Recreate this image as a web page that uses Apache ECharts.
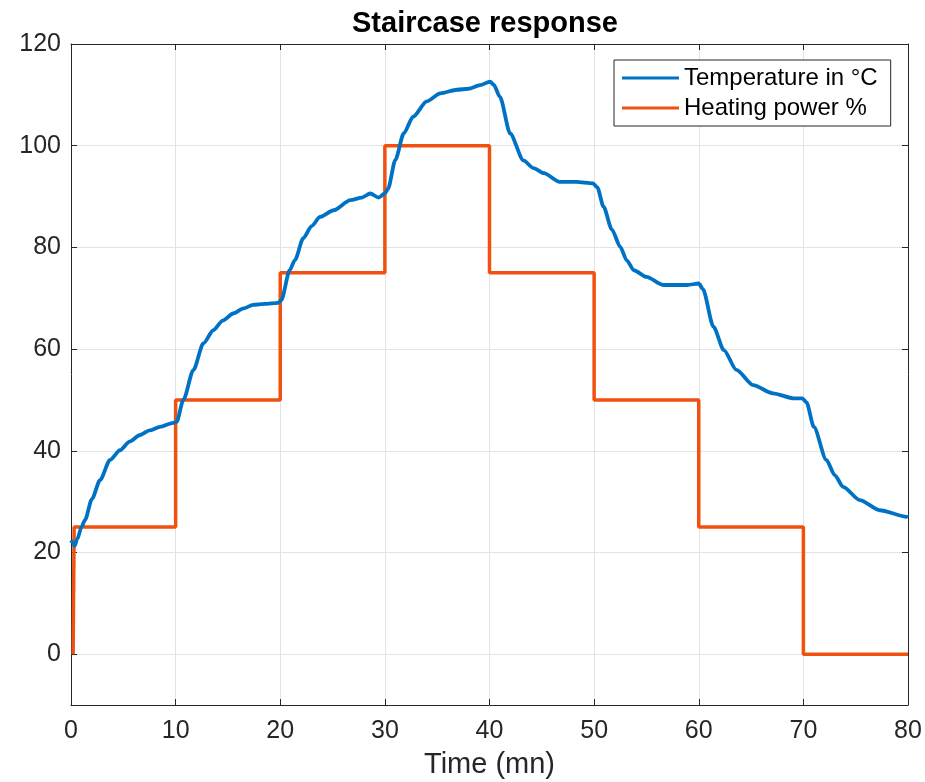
<!DOCTYPE html>
<html>
<head>
<meta charset="utf-8">
<script src="https://cdn.jsdelivr.net/npm/echarts@6/dist/echarts.min.js"></script>
<style>html,body{margin:0;padding:0;background:#fff;}#c{width:925px;height:782px;}</style>
</head>
<body>
<div id="c"></div>
<script>
const xTicks = [0, 10, 20, 30, 40, 50, 60, 70, 80];
const yTicks = [0, 20, 40, 60, 80, 100, 120];
const seriesNames = ['Temperature in °C', 'Heating power %'];
const titleText = 'Staircase response';
const xAxisName = 'Time (mn)';

const tempTime = [0, 0.15, 0.35, 0.6, 1.0, 1.34, 2.0, 2.77, 3.73, 4.68, 5.6, 6.6, 7.5, 8.5, 9.78, 10.1,
  10.74, 11.7, 12.65, 13.6, 14.5, 15.5, 16.5, 17.4, 18.5, 19.8, 20.1,
  20.9, 21.4, 22.2, 23.0, 23.8, 25.1, 26.7, 27.8, 28.6, 29.4, 30.0, 30.3,
  31.0, 31.8, 32.7, 34.0, 35.3, 36.9, 38.0, 39.1, 40.06, 40.4,
  41.0, 41.97, 43.24, 44.2, 45.2, 46.7, 48.3, 49.9, 50.3,
  50.9, 51.7, 52.5, 53.1, 53.8, 55.0, 56.6, 58.9, 60.0, 60.4,
  61.4, 62.4, 63.6, 65.2, 67.1, 69.1, 69.9, 70.3,
  71.0, 72.2, 73.0, 73.8, 75.4, 77.3, 79.9, 80];
const tempValues = [22.4, 22.0, 21.3, 22.6, 25.0, 26.4, 30.5, 34.2, 38.2, 40.1, 41.8, 43.1, 44.0, 44.7, 45.5, 45.7,
  50.0, 55.9, 61.1, 63.7, 65.6, 67.0, 68.0, 68.7, 68.9, 69.1, 69.6,
  75.5, 77.5, 81.8, 84.2, 86.0, 87.3, 89.3, 89.8, 90.6, 89.8, 90.6, 91.5,
  97.2, 102.4, 105.7, 108.7, 110.3, 111.0, 111.2, 111.9, 112.6, 112.0,
  109.6, 102.4, 97.1, 95.6, 94.6, 92.9, 92.9, 92.6, 91.8,
  88.0, 83.5, 80.1, 77.5, 75.5, 74.2, 72.6, 72.6, 72.9, 71.8,
  64.4, 59.8, 55.9, 52.9, 51.3, 50.3, 50.3, 49.5,
  44.7, 38.2, 35.2, 32.9, 30.3, 28.3, 27.0, 26.9];

const powerTime = [0.2, 0.3, 10, 10, 20, 20, 30, 30, 40, 40, 50, 50, 60, 60, 70, 70, 80];
const powerValues = [0, 25, 25, 50, 50, 75, 75, 100, 100, 75, 75, 50, 50, 25, 25, 0, 0];

const tempData = tempTime.map((t, i) => [t, tempValues[i]]);
const powerData = powerTime.map((t, i) => [t, powerValues[i]]);

const axisColor = '#262626';
const font = '"Liberation Sans", Arial, Helvetica, sans-serif';

const chart = echarts.init(document.getElementById('c'), null, {renderer: 'canvas'});
chart.setOption({
  animation: false,
  backgroundColor: '#ffffff',
  graphic: [{
    type: 'text',
    left: 352,
    top: 9,
    style: {text: titleText, fontFamily: font, fontSize: 29, fontWeight: 'bold', fill: '#000'}
  }],
  legend: {
    orient: 'vertical',
    left: 614,
    top: 60,
    data: seriesNames,
    icon: 'rect',
    itemWidth: 57,
    itemHeight: 3,
    itemGap: 4,
    padding: [5, 13, 5, 8],
    borderColor: axisColor,
    borderWidth: 1,
    backgroundColor: '#fff',
    textStyle: {fontFamily: font, fontSize: 24, color: '#000', lineHeight: 26}
  },
  grid: {left: 71, right: 17, top: 44, bottom: 77, containLabel: false, outerBoundsMode: 'none'},
  xAxis: [{
    type: 'value', min: 0, max: 80, interval: 10,
    name: xAxisName, nameLocation: 'middle', nameGap: 45,
    nameTextStyle: {fontFamily: font, fontSize: 29, color: axisColor},
    axisLine: {show: true, onZero: false, lineStyle: {color: axisColor, width: 1}},
    axisTick: {show: true, inside: true, length: 6, lineStyle: {color: axisColor}},
    axisLabel: {fontFamily: font, fontSize: 25, color: axisColor, margin: 14},
    splitLine: {show: true, lineStyle: {color: '#e3e3e3', width: 1}}
  }, {
    type: 'value', min: 0, max: 80, interval: 10, position: 'top',
    axisLine: {show: true, onZero: false, lineStyle: {color: axisColor, width: 1}},
    axisTick: {show: true, inside: true, length: 6, lineStyle: {color: axisColor}},
    axisLabel: {show: false},
    splitLine: {show: false}
  }],
  yAxis: [{
    type: 'value', min: -10, max: 120, interval: 20,
    axisLine: {show: true, onZero: false, lineStyle: {color: axisColor, width: 1}},
    axisTick: {show: true, inside: true, length: 6, lineStyle: {color: axisColor},
      customValues: yTicks},
    axisLabel: {fontFamily: font, fontSize: 25, color: axisColor, margin: 10,
      customValues: yTicks},
    splitLine: {show: true, lineStyle: {color: '#e3e3e3', width: 1}}
  }, {
    type: 'value', min: -10, max: 120, interval: 20, position: 'right',
    axisLine: {show: true, onZero: false, lineStyle: {color: axisColor, width: 1}},
    axisTick: {show: true, inside: true, length: 6, lineStyle: {color: axisColor},
      customValues: yTicks},
    axisLabel: {show: false},
    splitLine: {show: false}
  }],
  series: [{
    name: seriesNames[0],
    type: 'line',
    data: tempData,
    showSymbol: false,
    smooth: 0.25,
    smoothMonotone: 'x',
    lineStyle: {color: '#0072C6', width: 3.8},
    itemStyle: {color: '#0072C6'},
    z: 3
  }, {
    name: seriesNames[1],
    type: 'line',
    data: powerData,
    showSymbol: false,
    lineStyle: {color: '#F0510F', width: 3.5},
    itemStyle: {color: '#F0510F'},
    z: 2
  }]
});
</script>
</body>
</html>
